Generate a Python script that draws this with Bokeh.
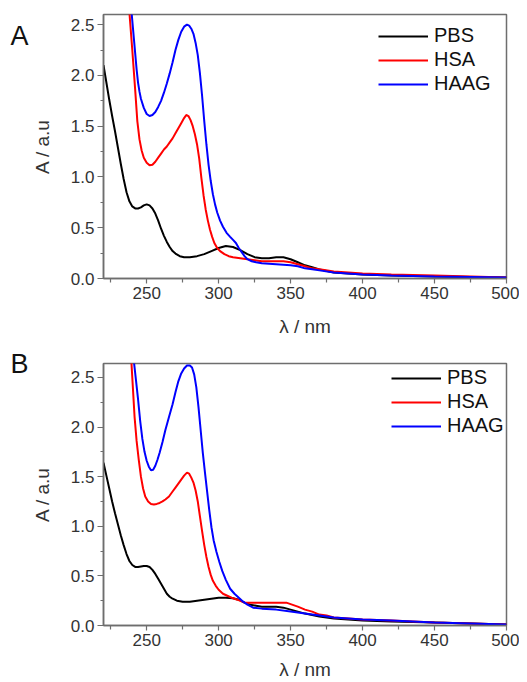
from bokeh.plotting import figure
from bokeh.models import Range1d, FixedTicker, PrintfTickFormatter, Legend, LegendItem, LinearAxis
from bokeh.layouts import column
from bokeh.embed import file_html
from bokeh.resources import INLINE

# ---------------- Panel A data ----------------
a_pbs_x = [220, 222, 224, 226, 228, 230, 232, 234, 236, 238, 240, 242, 244, 246, 248, 250, 252, 254, 256, 258,
           260, 262, 264, 266, 268, 270, 273, 276, 280, 285, 290, 295, 300, 305, 310, 315, 320, 325, 330, 335,
           340, 345, 350, 355, 360, 365, 370, 380, 390, 400, 420, 450, 475, 500]
a_pbs_y = [2.10, 1.93, 1.76, 1.60, 1.45, 1.29, 1.13, 0.98, 0.85, 0.76, 0.71, 0.69, 0.69, 0.70, 0.72, 0.73, 0.72, 0.69, 0.64, 0.57,
           0.49, 0.42, 0.36, 0.31, 0.27, 0.245, 0.22, 0.21, 0.21, 0.22, 0.24, 0.27, 0.30, 0.32, 0.31, 0.28, 0.24, 0.21, 0.20, 0.20,
           0.21, 0.21, 0.19, 0.16, 0.13, 0.11, 0.09, 0.06, 0.05, 0.04, 0.03, 0.02, 0.015, 0.01]

a_hsa_x = [232, 236, 238, 240, 242, 243.5, 245, 246.5, 248, 250, 252, 254, 256, 258, 260, 262, 264, 266, 268, 270,
           272, 274, 276, 277.5, 279, 280.5, 282, 283.5, 285, 286.5, 288, 289.5, 291, 292.5, 294, 295.5, 297, 299, 301, 304,
           307, 310, 315, 320, 325, 330, 340, 345, 350, 355, 360, 365, 370, 380, 390, 400, 420, 450, 475, 500]
a_hsa_y = [4.0, 3.05, 2.62, 2.25, 1.86, 1.55, 1.37, 1.26, 1.19, 1.14, 1.115, 1.12, 1.15, 1.19, 1.23, 1.27, 1.30, 1.34, 1.38, 1.43,
           1.48, 1.53, 1.58, 1.61, 1.60, 1.56, 1.50, 1.42, 1.32, 1.18, 0.99, 0.82, 0.68, 0.57, 0.48, 0.41, 0.35, 0.30, 0.27, 0.24,
           0.22, 0.21, 0.20, 0.19, 0.18, 0.17, 0.17, 0.17, 0.16, 0.14, 0.12, 0.10, 0.09, 0.07, 0.06, 0.05, 0.04, 0.03, 0.02, 0.01]

a_haag_x = [232, 236, 239.5, 241, 242, 243, 244, 245, 246, 248, 250, 252, 254, 256, 258, 260, 262, 264, 266, 268,
            270, 272, 274, 276, 278, 279.5, 281, 282.5, 284, 285.5, 287, 288.5, 290, 291.5, 293, 294.5, 296, 297.5, 299, 301,
            303, 305.5, 308, 310, 312, 314, 316, 318, 320, 323, 326, 330, 340, 350, 355, 360, 365, 370, 380, 390,
            400, 420, 450, 475, 500]
a_haag_y = [5.0, 3.3, 2.62, 2.38, 2.22, 2.06, 1.93, 1.84, 1.77, 1.68, 1.62, 1.60, 1.61, 1.64, 1.69, 1.75, 1.83, 1.92, 2.02, 2.13,
            2.25, 2.35, 2.43, 2.48, 2.50, 2.49, 2.46, 2.41, 2.32, 2.20, 2.02, 1.80, 1.55, 1.32, 1.12, 0.96, 0.83, 0.73, 0.65, 0.57,
            0.51, 0.45, 0.41, 0.38, 0.35, 0.30, 0.26, 0.22, 0.19, 0.17, 0.16, 0.15, 0.14, 0.13, 0.12, 0.10, 0.09, 0.08, 0.06, 0.05,
            0.04, 0.03, 0.02, 0.015, 0.01]

# ---------------- Panel B data ----------------
b_pbs_x = [220, 222, 224, 226, 228, 230, 232, 234, 236, 238, 240, 242, 244, 246, 248, 250, 252, 254, 256, 258,
           260, 262, 264, 266, 268, 271, 275, 280, 285, 290, 295, 300, 305, 310, 314, 318, 322, 326, 330, 340,
           345, 350, 355, 360, 370, 380, 390, 400, 420, 450, 475, 500]
b_pbs_y = [1.64, 1.51, 1.38, 1.25, 1.13, 1.02, 0.91, 0.81, 0.72, 0.65, 0.61, 0.59, 0.59, 0.595, 0.60, 0.60, 0.59, 0.56, 0.52, 0.47,
           0.42, 0.37, 0.32, 0.29, 0.27, 0.25, 0.24, 0.24, 0.25, 0.26, 0.27, 0.28, 0.28, 0.275, 0.26, 0.23, 0.21, 0.20, 0.19, 0.19,
           0.18, 0.16, 0.14, 0.12, 0.09, 0.07, 0.06, 0.05, 0.04, 0.03, 0.02, 0.01]

b_hsa_x = [234, 236, 239.4, 241.6, 243, 244.5, 246, 247.5, 249, 251, 253, 255, 257, 259, 261, 263, 265.5, 268, 270, 272,
           274, 276, 278, 279.5, 281, 282.5, 284, 285.5, 287, 288.5, 290, 291.5, 293, 294.5, 296, 298, 300, 303, 306, 309,
           313, 318, 325, 330, 340, 347, 350, 355, 360, 365, 370, 375, 380, 390, 400, 420, 450, 475, 500]
b_hsa_y = [4.0, 3.5, 2.65, 2.10, 1.86, 1.67, 1.50, 1.38, 1.30, 1.25, 1.225, 1.22, 1.225, 1.235, 1.25, 1.27, 1.30, 1.35, 1.39, 1.43,
           1.47, 1.51, 1.54, 1.53, 1.49, 1.44, 1.36, 1.25, 1.10, 0.95, 0.81, 0.69, 0.59, 0.51, 0.45, 0.40, 0.36, 0.32, 0.30, 0.28,
           0.26, 0.23, 0.23, 0.23, 0.23, 0.23, 0.215, 0.19, 0.16, 0.14, 0.11, 0.10, 0.08, 0.07, 0.06, 0.05, 0.03, 0.02, 0.01]

b_haag_x = [238, 241.2, 242.5, 244, 245.5, 247, 248.5, 250, 251.5, 253, 254.5, 256, 257.5, 259, 261, 263, 265.5, 268, 270, 272,
            274, 276, 278, 280, 281.5, 283, 284.5, 286, 287.5, 289, 290.5, 292, 293.5, 295, 296.5, 298.5, 300.5, 302.5, 305, 308,
            311, 314, 317, 320, 324, 330, 340, 350, 360, 370, 380, 390, 400, 420, 450, 475, 500]
b_haag_y = [3.3, 2.65, 2.48, 2.28, 2.06, 1.88, 1.75, 1.66, 1.60, 1.565, 1.57, 1.61, 1.67, 1.74, 1.85, 1.97, 2.10, 2.23, 2.35, 2.46,
            2.54, 2.59, 2.62, 2.62, 2.60, 2.53, 2.40, 2.20, 1.97, 1.74, 1.54, 1.35, 1.16, 0.99, 0.86, 0.74, 0.64, 0.55, 0.46, 0.37,
            0.32, 0.28, 0.24, 0.21, 0.18, 0.17, 0.16, 0.14, 0.12, 0.10, 0.08, 0.07, 0.06, 0.05, 0.03, 0.02, 0.01]

series_names = ["PBS", "HSA", "HAAG"]
series_colors = ["#000000", "#ff0000", "#0000ff"]
x_major = [250, 300, 350, 400, 450, 500]
x_minor = [225, 275, 325, 375, 425, 475]
y_major = [0.0, 0.5, 1.0, 1.5, 2.0, 2.5]
y_minor = [0.25, 0.75, 1.25, 1.75, 2.25]

FONT = "Liberation Sans"
GRAY = "#6e6e6e"


def make_panel(letter, letter_line_height, data, ymax, height, b_left, b_right, b_top, b_bottom,
               x_label_standoff, legend_loc):
    p = figure(width=519, height=height, output_backend="svg", toolbar_location=None,
               x_range=Range1d(220, 500), y_range=Range1d(0, ymax),
               min_border_left=b_left, min_border_right=b_right, min_border_top=b_top, min_border_bottom=b_bottom)
    p.grid.visible = False
    p.outline_line_color = GRAY
    p.outline_line_width = 1.5
    p.background_fill_color = "white"
    p.border_fill_color = "white"

    renderers = []
    for (xs, ys), col in zip(data, series_colors):
        r = p.line(xs, ys, line_color=col, line_width=2)
        renderers.append(r)

    xax = p.xaxis[0]
    yax = p.yaxis[0]
    xax.ticker = FixedTicker(ticks=x_major, minor_ticks=x_minor)
    yax.ticker = FixedTicker(ticks=y_major, minor_ticks=y_minor)
    yax.formatter = PrintfTickFormatter(format="%.1f")
    for ax in (xax, yax):
        ax.axis_line_color = GRAY
        ax.axis_line_width = 1.5
        ax.major_tick_line_color = GRAY
        ax.minor_tick_line_color = GRAY
        ax.major_tick_line_width = 1.2
        ax.minor_tick_line_width = 1.2
        ax.major_tick_in = 0
        ax.minor_tick_in = 0
        ax.major_label_text_font = FONT
        ax.major_label_text_font_size = "17px"
        ax.major_label_text_color = "#333333"
        ax.axis_label_text_font = FONT
        ax.axis_label_text_font_size = "19px"
        ax.axis_label_text_font_style = "normal"
        ax.axis_label_text_color = "#333333"
    xax.major_tick_out = 5
    xax.minor_tick_out = 4
    yax.major_tick_out = 6
    yax.minor_tick_out = 3
    xax.major_label_standoff = 3
    yax.major_label_standoff = 3
    xax.axis_label = "λ / nm"
    yax.axis_label = "A / a.u"
    xax.axis_label_standoff = x_label_standoff
    yax.axis_label_standoff = 15

    # panel letter, drawn as the label of a bare extra axis on the left
    letter_axis = LinearAxis(ticker=FixedTicker(ticks=[]), axis_label=letter,
                             axis_label_orientation="horizontal", axis_label_align="end",
                             axis_line_color=None, major_tick_line_color=None, minor_tick_line_color=None,
                             major_tick_out=0, minor_tick_out=0, major_label_standoff=0,
                             axis_label_standoff=0, axis_label_text_font=FONT,
                             axis_label_text_font_size="27px", axis_label_text_font_style="normal",
                             axis_label_text_line_height=letter_line_height,
                             axis_label_text_color="#111111")
    p.add_layout(letter_axis, "left")

    legend = Legend(items=[LegendItem(label=n, renderers=[r]) for n, r in zip(series_names, renderers)],
                    location=legend_loc, border_line_color=None, background_fill_alpha=0,
                    padding=0, margin=0, spacing=1, glyph_width=50, glyph_height=20, label_height=20,
                    label_standoff=6, label_text_font=FONT, label_text_font_size="20px",
                    label_text_color="#111111")
    p.add_layout(legend)
    return p


pa = make_panel("\nA", 1.4, [(a_pbs_x, a_pbs_y), (a_hsa_x, a_hsa_y), (a_haag_x, a_haag_y)],
                2.6, 340, 103, 12, 14, 62, 14, (275, 183))
pb = make_panel("B", 1.2, [(b_pbs_x, b_pbs_y), (b_hsa_x, b_hsa_y), (b_haag_x, b_haag_y)],
                2.64, 342, 97, 13, 23, 55, 10, (288, 188))

layout = column(pa, pb, spacing=0)
open("out.html", "w").write(file_html(layout, INLINE))
